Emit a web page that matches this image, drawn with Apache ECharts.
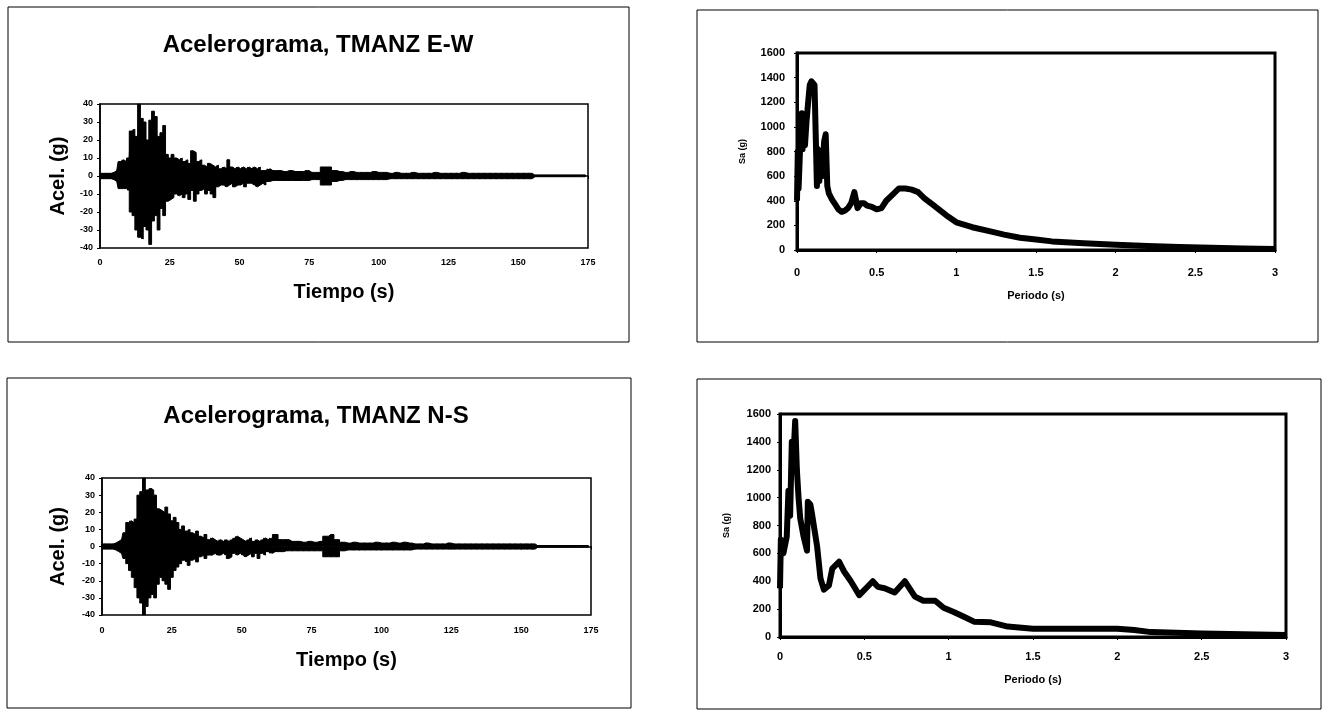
<!DOCTYPE html>
<html>
<head>
<meta charset="utf-8">
<script src="https://cdn.jsdelivr.net/npm/echarts@6/dist/echarts.min.js"></script>
<style>
html, body { margin: 0; padding: 0; background: #fff; }
#chart { width: 1326px; height: 713px; }
</style>
</head>
<body>
<div id="chart"></div>
<script>
// tiempo (s) de los acelerogramas
const tiempo = [
  0, 1, 2, 3, 4, 5, 6, 7, 8, 9, 10, 11, 12, 13, 14, 15, 16, 17, 18, 19,
  20, 21, 22, 23, 24, 25, 26, 27, 28, 29, 30, 31, 32, 33, 34, 35, 36, 37, 38, 39,
  40, 41, 42, 43, 44, 45, 46, 47, 48, 49, 50, 51, 52, 53, 54, 55, 56, 57, 58, 59, 60,
  62, 64, 66, 68, 70, 72, 74, 76, 78, 80, 82, 84, 86, 88, 90, 92, 94, 96, 98, 100,
  102, 104, 106, 108, 110, 112, 114, 116, 118, 120, 122, 124, 126, 128, 130,
  132, 134, 136, 138, 140, 142, 144, 146, 148, 150, 152, 154,
  156, 165, 174
]

// envolvente superior / inferior, TMANZ E-W (g)
const ewSup = [
  1.5, 1.5, 1.5, 1.5, 1.5, 2, 3, 8, 9, 8,
  10, 25, 26, 22, 40, 32, 30, 20, 31, 36,
  33, 22, 24, 28, 12, 10, 12, 10, 9, 10,
  8, 9, 7, 14, 13, 8, 9, 6, 5, 7,
  6, 5, 6, 4, 5, 4, 9, 5, 4, 5,
  4, 5, 4, 5, 4, 5, 4, 5, 3, 3, 4,
  3, 3, 2.5, 3, 2.5, 2.5, 3, 2, 2, 5, 5, 3, 2.5, 2, 2.5, 2, 2, 2, 2.5, 2,
  2, 1.5, 2, 1.5, 1.5, 2, 1.5, 1.5, 1.5, 2, 1.5, 1.5, 1.5, 1.5, 2,
  1.5, 1.5, 1.5, 1.5, 1.5, 1.5, 1.5, 1.5, 1.5, 1.5, 1.5, 1.5,
  0.4, 0.4, 0.4
]
const ewInf = [
  -1.5, -1.5, -1.5, -1.5, -1.5, -2, -3, -7, -7, -7,
  -8, -20, -22, -30, -34, -35, -28, -30, -38, -25,
  -22, -30, -18, -22, -14, -13, -12, -10, -11, -10,
  -12, -10, -13, -8, -14, -10, -8, -7, -10, -8,
  -10, -12, -6, -5, -5, -6, -5, -4, -6, -5,
  -5, -4, -6, -4, -4, -5, -6, -5, -4, -5, -3,
  -2.5, -2.5, -2.5, -2.5, -2.5, -2.5, -2.5, -2, -2, -5, -5, -3, -2.5, -2, -2, -2, -2, -2, -2, -2,
  -2, -1.5, -1.5, -1.5, -1.5, -1.5, -1.5, -1.5, -1.5, -1.5, -1.5, -1.5, -1.5, -1.5, -1.5,
  -1.5, -1.5, -1.5, -1.5, -1.5, -1.5, -1.5, -1.5, -1.5, -1.5, -1.5, -1.5,
  -0.4, -0.4, -0.4
]

// envolvente superior / inferior, TMANZ N-S (g)
const nsSup = [
  1.5, 1.5, 1.5, 1.5, 1.5, 2, 3, 4, 8, 14,
  15, 14, 16, 30, 32, 40, 33, 34, 33, 30,
  22, 21, 20, 23, 19, 15, 17, 14, 10, 12,
  9, 10, 8, 7, 9, 6, 5, 7, 4, 5,
  4, 3, 4, 3, 4, 3, 4, 5, 6, 5,
  4, 3, 4, 5, 3, 4, 3, 4, 5, 4, 5,
  7, 4, 4, 3, 3, 2.5, 3, 2.5, 3, 6, 7, 4, 2.5, 2, 2.5, 2, 2, 2, 2.5, 2,
  2, 2.5, 2, 2.5, 2, 1.5, 1.5, 2, 1.5, 1.5, 1.5, 2, 1.5, 1.5, 1.5,
  1.5, 1.5, 1.5, 1.5, 1.5, 1.5, 1.5, 1.5, 1.5, 1.5, 1.5, 1.5,
  0.4, 0.4, 0.4
]
const nsInf = [
  -1.5, -1.5, -1.5, -1.5, -1.5, -2, -3, -4, -7, -10,
  -14, -18, -24, -30, -33, -40, -35, -30, -28, -30,
  -22, -18, -20, -22, -25, -18, -14, -12, -10, -8,
  -9, -11, -8, -7, -9, -6, -5, -7, -5, -5,
  -4, -5, -5, -4, -5, -7, -6, -4, -5, -4,
  -5, -6, -5, -4, -6, -4, -7, -4, -5, -3, -4,
  -3, -3, -2.5, -2.5, -2.5, -2.5, -2.5, -2.5, -2.5, -6, -6, -6, -2.5, -2, -2, -2, -2, -2, -2, -2,
  -2, -2, -2, -2, -2, -1.5, -1.5, -1.5, -1.5, -1.5, -1.5, -1.5, -1.5, -1.5, -1.5,
  -1.5, -1.5, -1.5, -1.5, -1.5, -1.5, -1.5, -1.5, -1.5, -1.5, -1.5, -1.5,
  -0.4, -0.4, -0.4
]

// espectro de respuesta E-W
const periodoEW = [
  0, 0.005, 0.01, 0.02, 0.03, 0.035, 0.04, 0.05, 0.06, 0.07, 0.08, 0.09, 0.1,
  0.11, 0.12, 0.125, 0.13, 0.14, 0.15, 0.16, 0.17, 0.18, 0.19, 0.2,
  0.22, 0.24, 0.26, 0.28, 0.3, 0.32, 0.34, 0.36, 0.38, 0.4, 0.42, 0.44,
  0.47, 0.5, 0.53, 0.56, 0.6, 0.64, 0.68, 0.72, 0.76, 0.8, 0.85, 0.9, 0.95, 1.0,
  1.1, 1.2, 1.3, 1.4, 1.5, 1.6, 1.8, 2.0, 2.2, 2.4, 2.6, 2.8, 3.0
]
const saEW = [
  400, 800, 500, 850, 1110, 820, 1000, 850, 1050, 1200, 1340, 1370, 1370,
  1340, 800, 520, 820, 560, 800, 600, 880, 940, 520, 460,
  410, 370, 330, 310, 320, 340, 380, 470, 340, 380, 380, 360,
  350, 330, 340, 400, 450, 500, 500, 490, 470, 420, 370, 320, 270, 225,
  185, 155, 125, 100, 85, 70, 55, 42, 32, 24, 18, 12, 8
]

// espectro de respuesta N-S
const periodoNS = [
  0, 0.005, 0.02, 0.04, 0.05, 0.06, 0.07, 0.08, 0.09, 0.1,
  0.11, 0.12, 0.14, 0.16, 0.165, 0.18, 0.19, 0.2, 0.22, 0.24,
  0.26, 0.29, 0.31, 0.35, 0.38, 0.42, 0.47, 0.51, 0.55, 0.58,
  0.62, 0.68, 0.74, 0.8, 0.85, 0.92, 0.97, 1.03, 1.1, 1.15,
  1.25, 1.35, 1.5, 1.75, 2.0, 2.1, 2.2, 2.5, 3.0
]
const saNS = [
  350, 700, 600, 720, 1050, 870, 1400, 1300, 1550, 1200,
  1000, 850, 720, 620, 970, 950, 880, 870, 650, 420,
  340, 370, 490, 540, 470, 400, 300, 350, 400, 360,
  350, 320, 400, 290, 260, 260, 210, 180, 140, 110,
  105, 75, 60, 60, 60, 50, 35, 25, 15
]

const fuente = 'Liberation Sans, Arial, sans-serif'

// une la envolvente en una traza que sube y baja en cada instante
function traza(t, sup, inf) {
  const d = []
  for (let i = 0; i < t.length; i++) {
    d.push([t[i], sup[i]])
    d.push([t[i], inf[i]])
  }
  return d
}

function pares(x, y) {
  return x.map((v, i) => [v, y[i]])
}

function sinComa(v) {
  return String(v)
}

function ejeTiempo(grid, margen, gap) {
  return {
    type: 'value', gridIndex: grid, min: 0, max: 175, interval: 25,
    name: 'Tiempo (s)', nameLocation: 'middle', nameGap: gap,
    nameTextStyle: { fontFamily: fuente, fontWeight: 'bold', fontSize: 20, color: '#000' },
    axisLine: { show: true, lineStyle: { color: '#000', width: 1.5 } },
    axisTick: { show: true, length: 3, lineStyle: { color: '#000' } },
    axisLabel: { margin: margen, formatter: sinComa, fontFamily: fuente, fontWeight: 'bold', fontSize: 9, color: '#000' },
    splitLine: { show: false }
  }
}

function ejeAcel(grid, gap) {
  return {
    type: 'value', gridIndex: grid, min: -40, max: 40, interval: 10,
    name: 'Acel. (g)', nameLocation: 'middle', nameGap: gap, nameRotate: 90,
    nameTextStyle: { fontFamily: fuente, fontWeight: 'bold', fontSize: 20, color: '#000' },
    axisLine: { show: true, lineStyle: { color: '#000', width: 1.5 } },
    axisTick: { show: true, length: 3, lineStyle: { color: '#000' } },
    axisLabel: { margin: 7, formatter: sinComa, fontFamily: fuente, fontWeight: 'bold', fontSize: 9, color: '#000' },
    splitLine: { show: false }
  }
}

function ejePeriodo(grid, margen, gap) {
  return {
    type: 'value', gridIndex: grid, min: 0, max: 3, interval: 0.5,
    name: 'Periodo (s)', nameLocation: 'middle', nameGap: gap,
    nameTextStyle: { fontFamily: fuente, fontWeight: 'bold', fontSize: 11, color: '#000' },
    axisLine: { show: true, lineStyle: { color: '#000', width: 3 } },
    axisTick: { show: true, length: 3, lineStyle: { color: '#000' } },
    axisLabel: { margin: margen, formatter: sinComa, fontFamily: fuente, fontWeight: 'bold', fontSize: 11, color: '#000' },
    splitLine: { show: false }
  }
}

function ejeSa(grid, margen, gap) {
  return {
    type: 'value', gridIndex: grid, min: 0, max: 1600, interval: 200,
    name: 'Sa (g)', nameLocation: 'middle', nameGap: gap, nameRotate: 90,
    nameTextStyle: { fontFamily: fuente, fontWeight: 'bold', fontSize: 9, color: '#000' },
    axisLine: { show: true, lineStyle: { color: '#000', width: 3 } },
    axisTick: { show: true, length: 3, lineStyle: { color: '#000' } },
    axisLabel: { margin: margen, formatter: sinComa, fontFamily: fuente, fontWeight: 'bold', fontSize: 11, color: '#000' },
    splitLine: { show: false }
  }
}

function marco(x, y, w, h) {
  return { type: 'rect', shape: { x: x, y: y, width: w, height: h },
    style: { fill: 'none', stroke: '#000', lineWidth: 1 }, silent: true }
}

function titulo(texto, x, y) {
  return { type: 'text', x: x, y: y,
    style: { text: texto, fill: '#000', font: 'bold 24px ' + fuente, textAlign: 'center', textVerticalAlign: 'middle' } }
}

// relleno negro entre la envolvente y el eje cero
function envolvente(ix, t, v) {
  return { type: 'line', xAxisIndex: ix, yAxisIndex: ix, data: pares(t, v),
    step: 'middle', showSymbol: false, lineStyle: { color: '#000', width: 1 },
    areaStyle: { color: '#000', opacity: 1 } }
}

const chart = echarts.init(document.getElementById('chart'))
chart.setOption({
  backgroundColor: '#fff',
  animation: false,
  graphic: [
    marco(8, 7, 621, 335),
    marco(697, 10, 621, 332),
    marco(7, 378, 624, 330),
    marco(697, 379, 624, 330),
    titulo('Acelerograma, TMANZ E-W', 318, 45),
    titulo('Acelerograma, TMANZ N-S', 316, 416)
  ],
  grid: [
    { left: 100, top: 104, width: 488, height: 144, show: true, borderColor: '#000', borderWidth: 1.5 },
    { left: 797, top: 53, width: 478, height: 197, show: true, borderColor: '#000', borderWidth: 3 },
    { left: 102, top: 478, width: 489, height: 137, show: true, borderColor: '#000', borderWidth: 1.5 },
    { left: 780, top: 414, width: 506, height: 223, show: true, borderColor: '#000', borderWidth: 3 }
  ],
  xAxis: [
    ejeTiempo(0, 10, 34),
    ejePeriodo(1, 17, 40),
    ejeTiempo(2, 11, 35),
    ejePeriodo(3, 14, 37)
  ],
  yAxis: [
    ejeAcel(0, 32),
    ejeSa(1, 12, 50),
    ejeAcel(2, 34),
    ejeSa(3, 9, 49)
  ],
  series: [
    envolvente(0, tiempo, ewSup),
    envolvente(0, tiempo, ewInf),
    { type: 'line', xAxisIndex: 0, yAxisIndex: 0, data: traza(tiempo, ewSup, ewInf),
      showSymbol: false, lineStyle: { color: '#000', width: 1.5 } },
    { type: 'line', xAxisIndex: 1, yAxisIndex: 1, data: pares(periodoEW, saEW),
      showSymbol: false, lineStyle: { color: '#000', width: 6, join: 'round' } },
    envolvente(2, tiempo, nsSup),
    envolvente(2, tiempo, nsInf),
    { type: 'line', xAxisIndex: 2, yAxisIndex: 2, data: traza(tiempo, nsSup, nsInf),
      showSymbol: false, lineStyle: { color: '#000', width: 1.5 } },
    { type: 'line', xAxisIndex: 3, yAxisIndex: 3, data: pares(periodoNS, saNS),
      showSymbol: false, lineStyle: { color: '#000', width: 6, join: 'round' } }
  ]
})
</script>
</body>
</html>
